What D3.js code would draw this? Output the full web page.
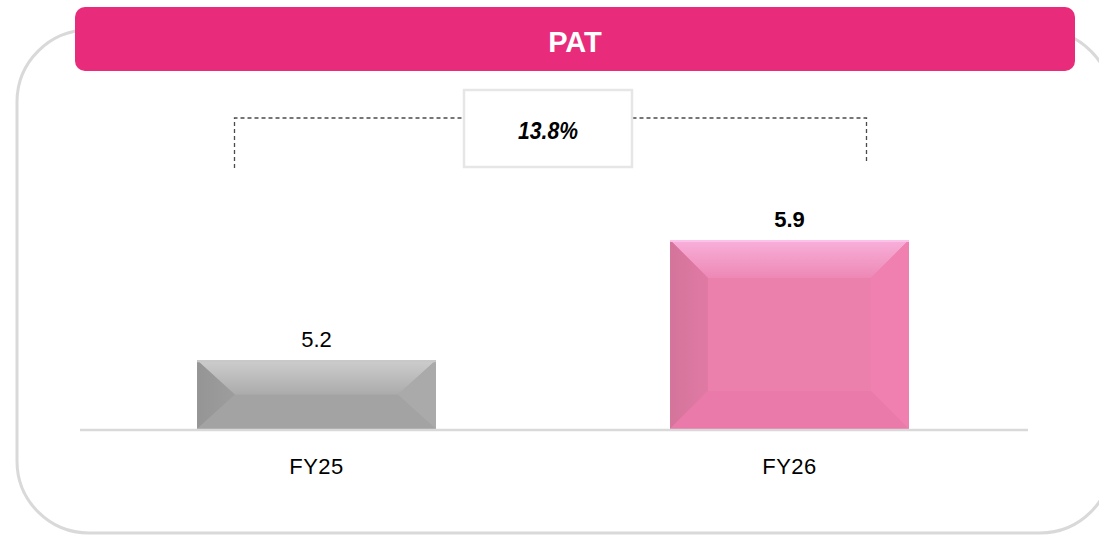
<!DOCTYPE html>
<html>
<head>
<meta charset="utf-8">
<script src="https://cdn.jsdelivr.net/npm/d3@7"></script>
<style>
  body { margin: 0; background: #fff; overflow: hidden; }
  svg { display: block; font-family: "Liberation Sans", Arial, sans-serif; }
</style>
</head>
<body>
<svg id="chart" width="1099" height="536"></svg>
<script>
var title = "PAT";
var categories = ["FY25", "FY26"];
var values = [5.2, 5.9];
var growthLabel = "13.8%";

var svg = d3.select("#chart");
var baseY = 429;

var x = d3.scaleBand().domain(categories).range([80, 1026]).paddingInner(0.495).paddingOuter(0.2475);
var y = d3.scaleLinear().domain([4.8, 5.9]).range([baseY, 240]);

// palettes per bar: top bevel gradient, left, centre, right, bottom, top edge
var palettes = [
  { topA: "#cdcdcd", topB: "#ababab", left: "#9d9d9d", mid: "#a7a7a7", right: "#aaaaaa", bottom: "#a3a3a3", edge: "#c8c8c8" },
  { topA: "#f7b0da", topB: "#ee88b5", left: "#e07aa4", mid: "#eb80ac", right: "#ef80b0", bottom: "#ea7aa9", edge: "#fcc2ea" }
];

var defs = svg.append("defs");
palettes.forEach(function(p, i) {
  var g = defs.append("linearGradient").attr("id", "topg" + i)
    .attr("x1", 0).attr("y1", 0).attr("x2", 0).attr("y2", 1);
  g.append("stop").attr("offset", "0%").attr("stop-color", p.topA);
  g.append("stop").attr("offset", "100%").attr("stop-color", p.topB);
  var l = defs.append("linearGradient").attr("id", "leftg" + i)
    .attr("x1", 0).attr("y1", 0).attr("x2", 1).attr("y2", 0);
  l.append("stop").attr("offset", "0%").attr("stop-color", d3.color(p.left).darker(0.15));
  l.append("stop").attr("offset", "100%").attr("stop-color", p.left);
});

// outer rounded frame
svg.append("rect")
  .attr("x", 17).attr("y", 30).attr("width", 1095).attr("height", 503)
  .attr("rx", 72).attr("ry", 72)
  .attr("fill", "none").attr("stroke", "#d9d9d9").attr("stroke-width", 3);

// title banner
svg.append("rect")
  .attr("x", 75).attr("y", 7).attr("width", 1000).attr("height", 64)
  .attr("rx", 10).attr("fill", "#e92b7b");
svg.append("text")
  .attr("x", 575).attr("y", 52)
  .attr("text-anchor", "middle")
  .attr("fill", "#fff").attr("font-weight", "bold").attr("font-size", 29)
  .text(title);

// growth bracket
var lx = x(categories[0]) + x.bandwidth() / 2 - 82;
var rx = x(categories[1]) + x.bandwidth() / 2 + 77;
svg.append("path")
  .attr("d", "M" + lx + ",168V118H" + rx + "V162")
  .attr("fill", "none").attr("stroke", "#4a4a4a").attr("stroke-width", 1.3)
  .attr("stroke-dasharray", "4,3");
svg.append("rect")
  .attr("x", 464).attr("y", 90).attr("width", 168).attr("height", 77)
  .attr("fill", "#fff").attr("stroke", "#e6e6e6").attr("stroke-width", 2.5);
svg.append("text")
  .attr("x", 548).attr("y", 139)
  .attr("text-anchor", "middle")
  .attr("font-weight", "bold").attr("font-style", "italic").attr("font-size", 23)
  .attr("transform", "translate(548,0) scale(0.92,1) translate(-548,0)")
  .text(growthLabel);

// bars with bevel faces
var bars = svg.selectAll("g.bar")
  .data(values)
  .enter().append("g").attr("class", "bar");

bars.each(function(d, i) {
  var g = d3.select(this);
  var p = palettes[i];
  var x0 = x(categories[i]), x1 = x0 + x.bandwidth();
  var y0 = y(d), y1 = baseY;
  var h = y1 - y0;
  var b = Math.min(38, h / 2);
  var bx = 38;
  function poly(pts, fill) {
    g.append("polygon").attr("points", pts.map(function(q) { return q.join(","); }).join(" ")).attr("fill", fill);
  }
  poly([[x0, y0], [x1, y0], [x1, y1], [x0, y1]], p.mid);
  poly([[x0, y0], [x1, y0], [x1 - bx, y0 + b], [x0 + bx, y0 + b]], "url(#topg" + i + ")");
  poly([[x0, y0], [x0 + bx, y0 + b], [x0 + bx, y1 - b], [x0, y1]], "url(#leftg" + i + ")");
  poly([[x1, y0], [x1, y1], [x1 - bx, y1 - b], [x1 - bx, y0 + b]], p.right);
  poly([[x0, y1], [x0 + bx, y1 - b], [x1 - bx, y1 - b], [x1, y1]], p.bottom);
  g.append("line").attr("x1", x0).attr("x2", x1).attr("y1", y0 + 1).attr("y2", y0 + 1)
    .attr("stroke", p.edge).attr("stroke-width", 2);
});

// value labels
svg.selectAll("text.val")
  .data(values)
  .enter().append("text").attr("class", "val")
  .attr("x", function(d, i) { return x(categories[i]) + x.bandwidth() / 2; })
  .attr("y", function(d) { return y(d) - 13; })
  .attr("text-anchor", "middle")
  .attr("font-size", 22)
  .attr("font-weight", function(d, i) { return i === 1 ? "bold" : "normal"; })
  .attr("fill", "#000")
  .text(function(d) { return d.toFixed(1); });

// baseline
svg.append("line")
  .attr("x1", 80).attr("x2", 1028).attr("y1", baseY + 1).attr("y2", baseY + 1)
  .attr("stroke", "#d9d9d9").attr("stroke-width", 2.5);

// category labels
svg.selectAll("text.cat")
  .data(categories)
  .enter().append("text").attr("class", "cat")
  .attr("x", function(d) { return x(d) + x.bandwidth() / 2; })
  .attr("y", 474)
  .attr("text-anchor", "middle")
  .attr("font-size", 22)
  .attr("letter-spacing", 0.5)
  .attr("fill", "#000")
  .text(function(d) { return d; });
</script>
</body>
</html>
